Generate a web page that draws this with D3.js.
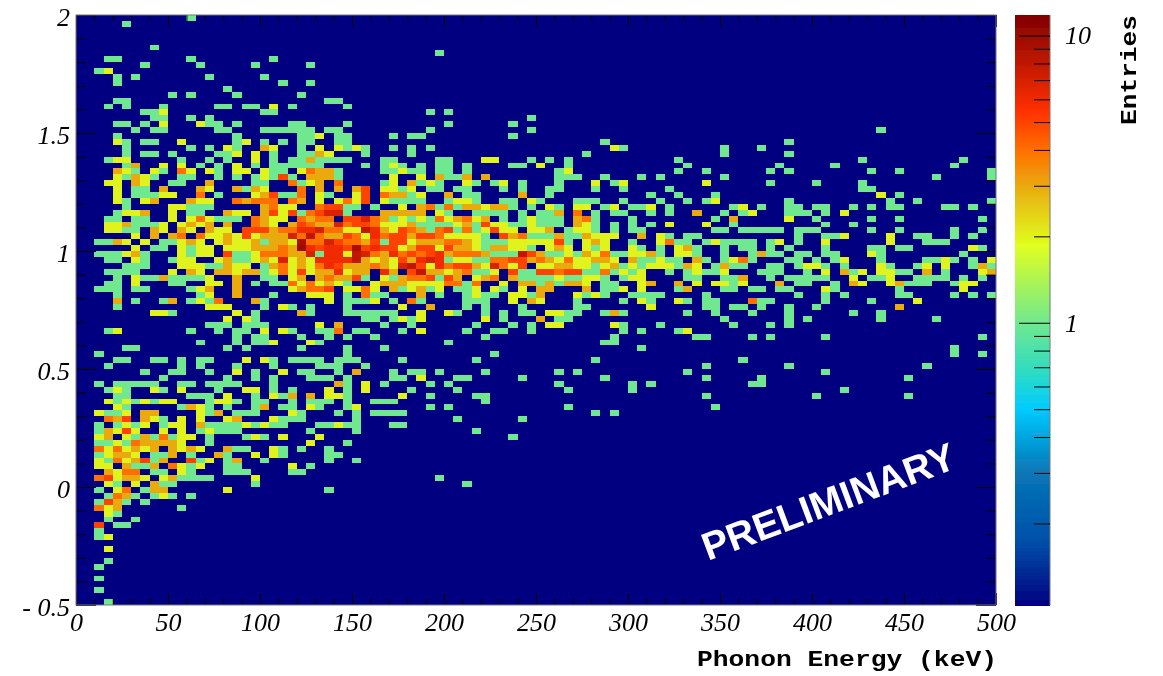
<!DOCTYPE html>
<html>
<head>
<meta charset="utf-8">
<script src="https://cdn.jsdelivr.net/npm/d3@7"></script>
<style>
body{margin:0;background:#fff}
svg{display:block}
.tickLabels text{font-family:"Liberation Serif",serif;font-style:italic;font-size:26px;fill:#000}
.title{font-family:"Liberation Mono",monospace;font-weight:bold;font-size:22px;fill:#000}
</style>
</head>
<body>
<svg id="svg1"></svg>
<script>
// counts per bin, top row first. token = column, or column:count when more than 1
var rows = [
"12","5","","","","8","39","3 4 12 21","7 13 19 25","2 3:2",
"4 6 14 20","4 22 25","16","10 12 17 24","4 5 27 28",
"3 5 9 15 16 18 19 21:2 23 29",
"7 8 9:2 20 21 38 40",
"8 9 12 14 49",
"4 5 7 9:2 13:2 14 15 17 23 24 29 40 47",
"6 8 9 15 16 20 21 22 23 24 25 27 28 38 49 87",
"4 17 24 25 26:2 28 29 34 36 37 47",
"4:2 5 7 8 11:2 17 18:2 20 22 24 25 28 29 57 77",
"5 12 14 16:2 17 20:3 21:2 24 26:2 28:2 29 30:2 31 34 36 38 58:2 59 70 74",
"5 7 8 10 15 16 17:2 19:2 21 24 25 26:3 27:2 31 36 55 70 77",
"3 4:2 5:2 11 14 16 19:2 21 23 24 25:3 26 27 28 29 33 34 39 40 44:2 45:2 49 51 53 65 85 96",
"5 6:3 9:2 11:2 13 15 17:2 19 21 22 23 24 25 26 31 33 34:2 35 37 39 40 42 47 48 50:2 53 66 76 82 95",
"4:3 5:2 6 8:2 9 11:4 12:2 14:2 15 17:2 18:2 20:2 21 22 24:2 25:4 26:3 27:3 28 33 34 35:2 36 37 39 40 42 52 53:2 65 68 75 77 86 89 99",
"4:2 5 6:3 7:2 8 11 12 15 17 19 20:2 21 22:5 23 25:3 26:3 27:3 28 34:2 37:2 39:3 40 41 42:3 44:3 52 53 54 57 61 63 70 93 99",
"3:2 4:2 6:3 7:2 10 11 14:3 19 20 23:4 24 25:2 26:3 28:4 33 34:2 36:3 37 38:2 39 42:2 43 45 46:2 48 52 56:2 58 59:2 68:2 75 80 85",
"4:2 6 7 9:3 13:3 14:2 17:3 18 19:3 20:2 24:4 26:3 28:3 30:3 31:5 33:2 34:2 35 36:2 38 39 41 42 46 48 51 52 56 59 64 85 86",
"4:2 6 7 8 9:2 10:2 13:4 15 19:2 20:3 21:5 22 23 24:4 26:2 27 30:2 31:5 33:4 34:3 35:3 36 37:2 40:3 42 43 48:3 51 62 65 69 87:2 89",
"4:2 5 7:2 8:3 12:3 13:2 14:2 17:4 18:3 19:4 20:4 21:4 23:4 24:3 26:2 28:2 29:4 30:2 31:5 33:2 34 35 36 37 40 41:2 42:2 43 46 47 49:2 50 54 55 56 59 63 66 68 69:2 77 88 91 99",
"5 10:2 11:2 12 13 14 20:3 21:4 22:2 23:2 26:4 27:5 28:5 29 30 32 35:2 37:3 38:4 39 40:4 41 42:3 43:3 44:2 45:3 46:3 47 49 51:2 52 54:2 55:2 57 58:2 60 61 62:2 64 71 72:2 74 77 78 80 81 84 86 88 89 94 95 97",
"4 5:2 6:2 7:3 10:2 12 13 16:3 17:2 18:2 20:3 21:5 22:2 23:5 24 25:4 26:5 27:7 28:7 29 33:3 34:3 35:3 36:3 37:3 39:2 40 43 44 45 46 48 50 51 52:3 54:4 56 58 59 62 64 67:3 70 72 73:2 77 78 79 81 83:2",
"3 4 6 7 10:2 12:2 13:4 14:2 15 16 17 19:4 20:3 21:2 22:2 24:4 25:3 26:4 27:4 29:5 30:5 31:7 32:4 33:3 34 35:2 36 37:2 38 39:4 40:2 41:3 42:4 43:2 44:3 46 48 49:2 50 51 52 54:3 55:4 56 60 69 71:3 77:2 80 86 89 98",
"3:2 4:2 5:3 6 7 8 9:2 11:2 12:3 13:2 14:3 16:3 19:4 20:3 21:2 23:3 24:5 25:4 26:3 27:3 28:7 29:4 30:5 31:5 32:4 33:2 34:2 35:2 36:3 37 38 39 40 41:2 42:3 43 44:5 45:2 46:2 47 48 49:2 50 51 52 54:3 55:2 56 58 60 62 64:2 68:2 71 81 84",
"3:2 4:2 5 6 8:3 9:2 11:3 12:2 14:3 15:2 16:2 18:5 19:5 20:5 21:3 22:4 23:4 24:6 25:6 26:7 27:4 28:4 29:2 30:2 31:8 32:6 33:3 34:2 35:5 36:4 37:3 38 39:4 40:5 41 42:4 43 44:2 45:5 46:2 47:2 49:2 50:2 51:3 53 54:2 55:2 56 58 60 61 69 70 72 73 74 75 76 78 79 80 86 89 95 98",
"6:2 8:3 10:3 11:4 13:4 14:2 15:2 16:3 17:2 18:5 19:2 20:3 21:3 22:3 23:7 24:4 25:8 26:4 27:3 28:3 29:5 30:4 31:2 32:6 33:4 34:5 35:5 36:3 37:5 38:5 39:4 40:2 41:2 42:2 43:2 44 46:5 47:3 48:4 49 50 51 52:3 53 54 55:3 56:2 57:2 58:2 61:3 63:2 64 66 67 78 81 82 83:2 88:2 91 92 95 97",
"2 3 4:3 5:2 7:2 9 10 11:2 12:3 13:2 15:2 16:3 17:2 18:2 19:3 20 21:3 22:3 23:2 24:9 25:4 26:4 27:7 28:5 29:4 30:4 31:3 32:5 33 34:5 35:5 36:2 37:3 38:3 39:3 40:4 41:4 42:3 43:2 44 45 46 47:2 48:2 49:2 50:2 51:2 52:5 53 55:2 56:3 57:2 60 63:2 64:4 65 66 68 69:2 70 71 72 73 75 76:2 78 81:2 88:2 92 93 94",
"6:2 8 9 11:2 12 13:2 14:2 16:2 17:2 18:2 19:3 20:3 21:3 22:4 23:3 24:10 25:6 26:5 27:6 28:6 29:5 30:9 31:5 32:6 33:5 34:5 35:2 36:3 37:5 38:5 39:2 40:5 41:3 42:3 43:2 44 45:3 46:3 47:2 48:2 49 51:2 52:3 53:2 55:2 56 57:2 60:2 61 63 65:2 66:3 67 70 72 73 75 77 81 86 87 89 90 97:2 98",
"2 3 4 5:2 6:3 7 11:2 12 13:2 14:2 16:5 17 18 19:2 20:4 21:4 22:4 23:3 24:3 25:7 26 27:6 28:6 29:2 30:8 31:7 32:4 33:3 34:6 35:4 36:5 37:4 38:5 39:6 40:3 41:4 42:4 43:4 44:3 45 46 47 48:8 49:5 50:3 51 52 53:2 54 55:3 56:2 57:4 58 59 60:2 61:2 62:3 63 65:2 66:2 67 70 73 74:3 75 76 78 79 81 82 86:2 87 96",
"3 4 6:2 7 10 11:2 12:2 15:2 16:3 17 18 19:2 20:3 21:2 22:7 23:2 24:3 25:2 26:6 27:6 28:6 29:6 30:8 31:3 32:2 33:3 34:2 35:5 36:3 37:6 38:7 39:6 40 41:2 42:2 43 44 45:4 46:4 47:5 48:5 49:3 50:4 51:3 52:2 53:4 54:2 55:2 56:3 57:3 58:2 60:3 61 62 63:2 64 65 67:3 68 70 71:2 72:4 73 77 78 80 82 83:2 87 92 93 94:2 95 97 99:2",
"5 6 7 11:2 12:2 13:2 14 15 16:3 17:2 18:2 20 21:3 22:4 23:2 24:3 25:2 26:4 27:6 28:5 29:3 30:3 31:3 32:4 33:3 34:2 35:7 36:8 37:5 38:2 39:6 40:4 41:5 42:5 43:3 44:2 45:7 46:4 47:2 48:5 50:2 51:2 52:3 53:3 54:2 55:2 56 57:2 58:3 59 60:2 61 62:2 63:2 64:2 65 66:3 67:2 69 70:3 71 72 75 76 78 79:2 80:2 81 83 87:2 88 91 92:2 94:2 97 98:3 99",
"3 4 5 6 10:2 12:3 13:2 15:3 16:3 17:2 18:3 19:3 20 21:2 22:4 23:2 24:5 25:2 26:3 27:3 28:6 29:2 30:3 31:3 33:6 34:3 36:5 37:8 38:3 39:3 40:2 41:3 42:4 43 44 45:2 47:5 48 49 50:5 51:5 52:4 53:5 54:5 55 56 57:4 58 59:2 60 61:2 64 66 67:2 68 69 70:2 74 75 76 79 81:2 83:3 84 85:2 87:2 88:2 89 90 92:3 94 98:2 99:3",
"4 6:2 7 8 9:3 10 11 12 13 14:2 17:3 20 21 23:2 24:3 26:3 27:4 28:3 29:3 30:5 31 33:2 34 35:3 36:4 37:4 38:5 39 40:5 41:3 43:2 44:3 45:4 47:3 48 49 50 51 52:2 53 54 55:2 56:2 57 59 60:2 61:2 66 67 70 71 72:3 75 77 78 79 80 81 84:2 86 87 88:2 91 92 93 94 96 98",
"3 4 6:2 10 11 14:2 15:2 17:3 19 21 22 23:4 24:2 25:4 26:2 27:3 28:2 29 32:2 33:3 34:3 35:3 36:2 37:2 38:2 39:2 40:4 41:4 42 43:4 46:2 48:3 49:3 50 51:3 52 53:3 54:3 55:2 57 58 61:2 62:3 65:3 67:2 69:2 70:2 71 72:2 76:3 78 79 82 84:3 85:2 88:2 89:3 90 91 92 95 96:2 97:2",
"2 3 4 6 7 12 13:2 14:3 17:3 23:2 24:3 25:4 26:4 27:5 29:2 30:2 31:4 32:2 34:3 35 36:2 37:3 38 39:2 41 42 43:2 45:2 46 48:2 50:3 51:3 55:3 57 58 59:2 61:2 65 66:3 70 71 73 74 76 77 81:2 82 89 96:2",
"4 13 14:2 17:3 21 25:2 26:2 27:2 29 31:4 32 33 37:3 39 42 43:2 44 45 47:2 48:2 49 50:3 54:2 55 56:2 57 60 61 62 63 68 78 81 83 89 90 95 97 99",
"4:3 6 9 10:3 12 13:2 14 15:4 19:3 20 27:2 29 30 31 32:2 34 36:4 37 42 43 44 47:2 49:3 50:2 54 59 61:2 62 65:2 66 68 69 73:4 74 75 81 86 91:2",
"4 14:2 15:2 16:2 20 22:2 23 25 29 35:2 38:3 42 44 48 54 55 62:2 68 69 71 72 74 77 80 89:3",
"8:2 9:2 10 17:2 19 24:3 25 29 30 31 32 33 34 37:2 40:2 41 44 46 48 49 51:2 52:2 53 54 57 58:3 59 66 69 73 77 84 87",
"16:2 18:2 19 31 32 34 35:2 36 37:2 44:2 46 50:3 52 53 70 77 79 87 93",
"14 15 16 18 19 20 26:2 28:3 33 36 43 47 49 51:2 52:2 58:2 59 63 71 75 77",
"3 4:2 12 15 17 18 20:2 22:2 23 26 27 28:4 30 31 35 37:2 42 45 46 49 59 61 65 66:2",
"17 19 20 24 27 29 32 44 58 67 68 73 75 81 98",
"13 17 19 20 21:2 25:2 26 40 57 58",
"5 6 16 18 24 29 33 61 95",
"2 29 45 95 98",
"4 5 8 9 11 13 14 18:2 20:2 21 23 24 25 26 28 29 30 35 43 56 72",
"3 11 13 17 21 26 27 28 31 68 77 92",
"7 10 11 14 17:2 19 22:2 24 25 28 30:3 34 36 37 39 44 52 54 66 81",
"9 16 19 21 25 26 27 29 34 35 37:2 41 42 48 57 68 74 90",
"2 4 5 6 7 8 11 12 14 15 16 17 21 28:3 29 31:2 33 38 40 52 60 62 73 74",
"3 4:2 5 8:2 9 11:2 15 18:2 19:2 21 23 27:2 29 31:2 36 41 53 60 83",
"4 5 12 13 14 16:2 19 21:2 22 23:3 25:3 27:2 28:2 29 35:2 38 43 44 68 80 90",
"3:2 4 5:2 6 7:2 8 9:2 10:2 14 15:2 16:2 17 19 20 23 25 26 27 29 32 33 34 44",
"4:2 5 11 12:3 13:2 14 16 19 20:3 22 23 25:2 26 29 30:2 38 40 53 69",
"2:2 3 4 5:2 7:3 8:3 13:2 14 15:3 17 18 19 23:2 24 28 30 32 33 34 35 56 58",
"3:4 4:3 5:5 7:3 8:2 9 11:2 13:2 16:2 17:3 21:2 22 23 24 30 41 48",
"2 4 5:2 6 7:2 9 10:2 11:2 13:3 14 15 16 17 18:2 19 20:2 21 22 26 27 28:2 29 30 34 35",
"2 3:3 4:2 5:5 6:2 9:2 11:2 13 14:2 15 16 17 25 30 43",
"2:2 3:3 5:2 6 7:3 8 9:4 10 11:2 12:2 14 18 19:2 20 22:2 26:2 47",
"2 3 4:2 5 6:4 7:3 8:3 9:3 10:3 11:2 14 25:2 29",
"2:4 3:2 4:4 5:2 6:3 7:2 8:3 10:3 11:2 12:3 13:2 16:3 17 18 21:2 22 24 27",
"2 3:2 4:3 5:3 6:2 8 9 10:3 12 15:3 16 19:2 21:2 22 27 28",
"2:2 3 4:4 5:2 6:3 7:5 8 9:3 12:5 13 14:2 16 17:3 20 27 30",
"2:2 3:2 5:3 6 7 8:3 10:4 11:2 12 13:2 16 17 23:2 25",
"3:3 4:2 5:4 6:4 8 9 11:2 12 16 17 18 23 24",
"2:4 3:5 4:2 5:3 6:3 7:2 9:2 10:3 11 12 13 14 19:2 39",
"3:2 4 6:2 8:3 9 10 19 42",
"2 4:2 5:4 7 8:3 9:3 16:2 27",
"3 4:4 5:3 6 8 9:2 10 12",
"2 3:5 4:3 5 7",
"2:4 3:2 4:3 11",
"3:2 4",
"3 6",
"2:5 4 5",
"2",
"2 3:2",
"",
"3:2",
"",
"3",
"2",
"",
"2",
"",
"2",
"",
"3"
]
var xBinWidth = 5
var yBinWidth = 0.025
var xMajor = [0,50,100,150,200,250,300,350,400,450,500]
var xMinor = [10,20,30,40,60,70,80,90,110,120,130,140,160,170,180,190,210,220,230,240,260,270,280,290,310,320,330,340,360,370,380,390,410,420,430,440,460,470,480,490]
var yMajor = [-0.5,0,0.5,1,1.5,2]
var yMinor = [-0.4,-0.3,-0.2,-0.1,0.1,0.2,0.3,0.4,0.6,0.7,0.8,0.9,1.1,1.2,1.3,1.4,1.6,1.7,1.8,1.9]
var zMajor = [1,10]
var zMinor = [0.2,0.3,0.4,0.5,0.6,0.7,0.8,0.9,2,3,4,5,6,7,8,9]
var paletteZ = [0.104,0.175,0.307,0.505,0.686,1,1.87,2.9,4,5.5,11.8]
var paletteColors = ["#000080","#0050a8","#0878b8","#00ccff","#30dcc0","#70e890","#e0ff20","#e8b010","#ff7000","#ff3000","#800000"]

var screen = {width:1163,height:676}
var plot = {left:76,right:996,top:15,bottom:605}
var bar = {left:1015,right:1050}

var parseCells = function(rows)
{
    var cells = []
    rows.forEach(function(row,index)
    {
        row.split(" ").filter(function(t){return t!=""}).forEach(function(token)
        {
            var parts = token.split(":")
            cells.push({
                energy:+parts[0]*xBinWidth,
                yieldLow:2-(index+1)*yBinWidth,
                count:parts.length>1 ? +parts[1] : 1
            })
        })
    })
    return cells
}

var drawCells = function(cells,target,xScale,yScale,colorScale)
{
    target.append("rect")
    .attr("x",plot.left)
    .attr("y",plot.top)
    .attr("width",plot.right-plot.left)
    .attr("height",plot.bottom-plot.top)
    .attr("fill",colorScale(paletteZ[0]))

    target.append("g")
    .attr("shape-rendering","crispEdges")
    .selectAll("rect")
    .data(cells)
    .enter()
    .append("rect")
    .attr("x",function(d){return xScale(d.energy)})
    .attr("y",function(d){return yScale(d.yieldLow+yBinWidth)})
    .attr("width",xScale(xBinWidth)-xScale(0))
    .attr("height",yScale(0)-yScale(yBinWidth))
    .attr("fill",function(d){return colorScale(d.count)})
}

var drawColorBar = function(target,zScale,colorScale)
{
    var top = zScale.domain()[1]
    var bottom = zScale.domain()[0]
    var n = plot.bottom-plot.top
    var levels = d3.range(0,n).map(function(i)
    {
        return Math.pow(10,Math.log10(bottom)+(i/n)*(Math.log10(top)-Math.log10(bottom)))
    })
    target.append("g")
    .attr("shape-rendering","crispEdges")
    .selectAll("rect")
    .data(levels)
    .enter()
    .append("rect")
    .attr("x",bar.left)
    .attr("width",bar.right-bar.left)
    .attr("y",function(d){return zScale(d)-1})
    .attr("height",1.5)
    .attr("fill",function(d){return colorScale(d)})

    target.append("line")
    .attr("x1",bar.right).attr("x2",bar.right)
    .attr("y1",plot.top).attr("y2",plot.bottom)
    .attr("stroke","#777").attr("stroke-width",1)

    target.append("g")
    .attr("transform","translate("+bar.right+",0)")
    .call(d3.axisRight(zScale).tickValues(zMinor).tickSize(-16).tickFormat(""))
    .call(cleanAxis)

    target.append("g")
    .attr("class","tickLabels")
    .attr("transform","translate("+bar.right+",0)")
    .call(d3.axisRight(zScale).tickValues(zMajor).tickSize(-31).tickPadding(15).tickFormat(d3.format("d")))
    .call(cleanAxis)
}

var cleanAxis = function(g)
{
    g.select(".domain").remove()
    g.attr("font-size",null).attr("font-family",null)
    g.selectAll("line").attr("stroke","#000").attr("stroke-width",1)
}

var drawAxes = function(target,xScale,yScale)
{
    target.append("g")
    .attr("transform","translate(0,"+plot.bottom+")")
    .call(d3.axisBottom(xScale).tickValues(xMinor).tickSize(-6).tickFormat(""))
    .call(cleanAxis)
    target.append("g")
    .attr("class","tickLabels")
    .attr("transform","translate(0,"+plot.bottom+")")
    .call(d3.axisBottom(xScale).tickValues(xMajor).tickSize(-12).tickPadding(8).tickFormat(d3.format("d")))
    .call(cleanAxis)

    target.append("g")
    .attr("transform","translate(0,"+plot.top+")")
    .call(d3.axisTop(xScale).tickValues(xMinor).tickSize(-6).tickFormat(""))
    .call(cleanAxis)
    target.append("g")
    .attr("transform","translate(0,"+plot.top+")")
    .call(d3.axisTop(xScale).tickValues(xMajor).tickSize(-12).tickFormat(""))
    .call(cleanAxis)

    target.append("g")
    .attr("transform","translate("+plot.left+",0)")
    .call(d3.axisLeft(yScale).tickValues(yMinor).tickSize(-10).tickFormat(""))
    .call(cleanAxis)
    target.append("g")
    .attr("class","tickLabels")
    .attr("transform","translate("+plot.left+",0)")
    .call(d3.axisLeft(yScale).tickValues(yMajor).tickSize(-20).tickPadding(6).tickFormat(function(d)
    {
        return d<0 ? "- "+Math.abs(d) : d
    }))
    .call(cleanAxis)
    .selectAll("text").attr("dy","0.4em")

    target.append("g")
    .attr("transform","translate("+plot.right+",0)")
    .call(d3.axisRight(yScale).tickValues(yMinor).tickSize(-10).tickFormat(""))
    .call(cleanAxis)
    target.append("g")
    .attr("transform","translate("+plot.right+",0)")
    .call(d3.axisRight(yScale).tickValues(yMajor).tickSize(-20).tickFormat(""))
    .call(cleanAxis)

    target.append("rect")
    .attr("x",plot.left)
    .attr("y",plot.top)
    .attr("width",plot.right-plot.left)
    .attr("height",plot.bottom-plot.top)
    .attr("fill","none")
    .attr("stroke","#777")
    .attr("stroke-width",1)
}

var drawLabels = function(target)
{
    target.append("text")
    .text("Phonon Energy (keV)")
    .classed("title",true)
    .attr("x",697)
    .attr("y",666)
    .attr("textLength",300)
    .attr("lengthAdjust","spacingAndGlyphs")

    target.append("text")
    .text("Entries")
    .classed("title",true)
    .attr("transform","translate(1136,125) rotate(-90)")
    .attr("textLength",110)
    .attr("lengthAdjust","spacingAndGlyphs")

    target.append("text")
    .text("PRELIMINARY")
    .attr("transform","translate(708,561) rotate(-20.5)")
    .attr("font-family","Liberation Sans")
    .attr("font-weight","bold")
    .attr("font-size",39)
    .attr("fill","#fff")
}

var initGraph = function()
{
    var svg = d3.select("#svg1")
    .attr("width",screen.width)
    .attr("height",screen.height)

    // the original is a slightly soft raster
    var soft = svg.append("defs").append("filter")
    .attr("id","soft")
    .attr("filterUnits","userSpaceOnUse")
    .attr("x",0).attr("y",0)
    .attr("width",screen.width).attr("height",screen.height)
    soft.append("feGaussianBlur").attr("stdDeviation",0.45)

    var chart = svg.append("g").attr("filter","url(#soft)")

    var xScale = d3.scaleLinear().domain([0,500]).range([plot.left,plot.right])
    var yScale = d3.scaleLinear().domain([-0.5,2]).range([plot.bottom,plot.top])
    var zScale = d3.scaleLog().domain([paletteZ[0],paletteZ[paletteZ.length-1]]).range([plot.bottom,plot.top])
    var colorScale = d3.scaleLog().domain(paletteZ).range(paletteColors).clamp(true)

    drawCells(parseCells(rows),chart,xScale,yScale,colorScale)
    drawAxes(chart,xScale,yScale)
    drawColorBar(chart,zScale,colorScale)
    drawLabels(chart)
}
initGraph()
</script>
</body>
</html>
